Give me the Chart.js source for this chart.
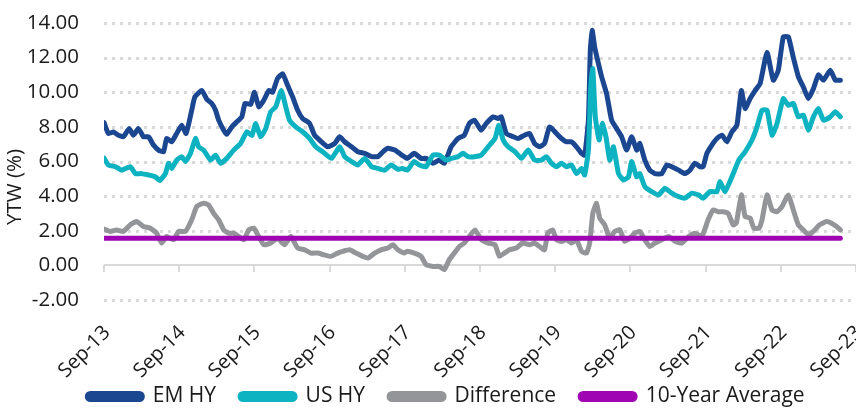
<!DOCTYPE html>
<html>
<head>
<meta charset="utf-8">
<script src="https://cdn.jsdelivr.net/npm/chart.js@4/dist/chart.umd.min.js"></script>
<style>
  html, body { margin: 0; padding: 0; background: #ffffff; }
  #wrap { width: 856px; height: 411px; position: relative; }
</style>
</head>
<body>
<div id="wrap"><canvas id="c"></canvas></div>
<script>
// x = months since Sep-2013
const tickLabels = ["Sep-13","Sep-14","Sep-15","Sep-16","Sep-17","Sep-18","Sep-19","Sep-20","Sep-21","Sep-22","Sep-23"];

const emMonths = [0,0.7,1.5,2.3,3.1,4,4.7,5.5,6.3,7.1,7.9,8.7,9.5,10,10.8,11.6,12.4,13.1,14,14.5,15.6,16.4,17.2,17.8,18.3,19.1,19.6,20.4,21.2,22,22.5,23.4,24,24.7,25.5,26.3,26.9,27.7,28.5,29.3,30.1,30.9,31.7,32.8,33.6,34.7,35.7,36.8,37.6,38.4,39.5,40.5,41.6,42.7,43.7,44.5,45.3,46.4,47.4,48.4,49.5,50.6,51.4,52.5,53.5,54.3,55.4,56.5,57.5,58.3,59.1,60.2,61,62.1,62.9,63.4,64.2,65.3,66.1,67.1,67.9,68.7,69.5,70.3,71.1,72.2,73,73.8,74.6,75.4,76.2,76.7,77.3,77.6,77.9,78.3,78.9,79.4,80.2,81,81.8,82.6,83.4,84.2,85,85.5,86.3,87.1,87.9,89,89.8,90.6,91.7,92.7,93.5,94.3,95.1,95.6,96.2,97,97.8,98.6,99.4,100.2,101,101.7,102.3,103.1,103.9,104.7,105.8,106.8,107.6,108.4,109.2,110,110.8,111.6,112.4,113.2,114,114.8,115.9,116.7,117.5];
const emValues = [8.25,7.62,7.7,7.52,7.43,7.9,7.52,7.9,7.43,7.43,6.95,6.66,6.56,7.33,7.14,7.62,8.1,7.62,8.96,9.73,10.1,9.6,9.35,8.96,8.39,7.81,7.58,8.0,8.29,8.58,9.35,9.3,10.0,9.16,9.54,10.1,10.0,10.8,11.07,10.4,9.73,8.96,8.48,8.2,7.52,7.14,6.85,7.04,7.43,7.14,6.85,6.56,6.47,6.28,6.28,6.56,6.76,6.66,6.4,6.18,6.47,6.18,6.18,5.9,6.08,5.9,6.85,7.33,7.52,8.2,8.39,7.81,8.2,8.58,8.48,8.58,7.62,7.43,7.33,7.52,7.62,7.04,6.85,7.04,8.0,7.62,7.33,7.14,7.14,6.85,6.47,6.37,8.39,12.4,13.57,12.6,11.65,10.9,9.92,8.39,7.9,7.43,6.66,7.43,6.66,7.04,6.08,5.5,5.3,5.3,5.8,5.7,5.5,5.3,5.5,5.9,5.7,5.7,6.47,6.95,7.33,7.52,7.14,7.72,8.1,10.1,9.06,9.63,10.1,10.5,12.3,10.7,11.27,13.2,13.2,12.0,10.9,10.3,9.63,10.2,11.0,10.7,11.27,10.7,10.7];

const usMonths = [0,0.7,1.8,2.8,4.2,5,6,7.1,8.2,8.9,9.8,10.3,10.8,11.6,12.4,13,13.8,14.6,15.1,15.9,17,17.8,18.6,19.6,20.7,21.8,22.8,23.6,24.2,25,25.8,26.6,27.4,28.3,29,29.6,30.6,31.7,32.8,33.8,34.9,36.3,37.6,38.4,39.5,40.5,41.6,42.7,43.7,44.8,45.8,46.9,47.6,48.4,49.5,50.3,51.4,52.5,53.5,54.6,55.4,56.5,57.3,58.1,59.1,60.2,61.3,62.4,63,63.7,64.5,65.6,66.6,67.7,68.7,69.8,70.6,71.4,72.2,73,73.8,74.6,75.4,76.2,76.7,77.3,77.7,78,78.4,79,79.5,80.1,80.7,81.3,82.1,82.9,83.7,84.2,85,85.5,86.3,87.4,88.5,89.5,90.6,91.7,92.7,93.8,94.9,95.6,96.7,97.8,98.3,99.1,100.2,101.3,102.3,103.4,104.2,105,105.8,106.6,107.4,108.4,109.2,110,110.8,111.6,112.4,113.2,114,114.8,115.9,116.7,117.5];
const usValues = [6.2,5.8,5.7,5.5,5.7,5.3,5.3,5.22,5.12,4.9,5.3,5.9,5.6,6.08,6.28,6.0,6.47,7.33,6.85,6.66,6.08,6.37,5.9,6.18,6.66,7.04,7.72,7.5,8.2,7.43,7.9,8.87,9.16,10.1,9.16,8.39,8.0,7.72,7.33,6.85,6.56,6.18,6.85,6.28,6.0,5.8,6.18,5.7,5.6,5.5,5.8,5.55,5.6,5.5,6.0,5.8,5.7,6.37,6.37,6.08,6.18,6.28,6.47,6.28,6.28,6.37,6.85,7.33,8.1,7.24,6.85,6.56,6.18,6.66,6.08,6.08,6.28,5.9,5.7,5.9,5.7,5.8,5.3,5.6,5.22,6.66,10.5,11.36,8.58,7.24,8.2,7.43,6.08,6.85,5.3,4.93,5.12,6.0,5.12,5.3,4.55,4.26,4.07,4.45,4.17,3.97,3.88,4.17,4.07,3.88,4.26,4.26,4.84,4.26,5.12,6.08,6.56,7.24,8.0,8.96,8.96,7.52,8.2,9.63,9.25,9.35,8.58,8.68,7.81,8.58,9.06,8.39,8.58,8.87,8.58];

const diffMonths = [0,1,2,3.1,4.2,5.2,6.3,7.4,8.4,9.2,10,11.1,11.9,13,14,14.8,15.9,16.7,17.5,18.3,19.1,19.9,20.7,21.5,22.3,23.1,23.9,24.4,25.5,26.6,27.7,28.8,29.8,30.9,32,33,34.1,35.1,36.2,37.3,38.1,39.2,40.2,41.3,42.1,43.2,44.2,45.3,46.1,46.9,47.9,48.4,49.5,50.6,51.4,52.5,53.5,54.3,55.1,55.9,56.7,57.5,58.3,59.2,60.2,61.3,62.4,63.1,63.9,64.7,65.8,66.8,67.9,68.7,69.5,70.3,70.8,71.6,72.2,73,73.8,74.6,75.4,76.2,77,77.5,78,78.6,79.1,79.9,80.7,81.5,82.3,83.1,83.9,84.7,85.5,86.3,87.1,87.9,89,90.1,91.2,92.2,93.3,94.3,95.4,96.4,97.2,98,98.8,99.6,100.4,100.9,101.7,102.3,103.1,103.7,104.5,105,105.8,106.6,107.4,108.2,109.2,110,110.8,111.6,112.4,113.2,114.2,115.3,116.1,116.9,117.5];
const diffValues = [2.1,1.96,2.05,1.96,2.34,2.53,2.25,2.15,1.86,1.29,1.67,1.48,1.96,1.96,2.63,3.4,3.59,3.49,3.0,2.63,2.05,1.86,1.86,1.67,1.48,2.05,2.15,1.86,1.19,1.29,1.57,1.19,1.67,1.0,0.9,0.71,0.71,0.61,0.52,0.71,0.81,0.9,0.71,0.52,0.42,0.71,0.9,1.0,1.19,0.9,0.71,0.81,0.71,0.52,0.04,-0.06,-0.06,-0.25,0.33,0.71,1.09,1.29,1.67,2.05,1.48,1.29,1.19,0.52,0.71,0.9,1.0,1.29,1.19,1.29,1.09,0.9,1.86,2.05,1.48,1.38,1.48,1.29,1.48,0.81,0.71,1.29,3.0,3.59,2.73,2.34,1.57,1.96,2.05,1.38,1.57,1.86,1.96,1.48,1.09,1.29,1.48,1.67,1.38,1.29,1.67,1.86,1.67,2.63,3.2,3.1,3.1,3.0,2.34,2.44,4.07,2.82,2.73,2.15,2.15,2.63,4.07,3.2,3.1,3.4,4.07,3.2,2.34,2.05,1.77,1.96,2.34,2.53,2.44,2.25,2.05];

const avgMonths = [0,117.5];
const avgValues = [1.57,1.57];

const yTitle = 'YTW (%)';

function pts(xs, ys) { return xs.map((x, i) => ({ x: x, y: ys[i] })); }

const FONT = "'Open Sans', sans-serif";
const AXIS_PX = 20.5;
const XTICK_PX = 20;
const LEG_PX = 21;
const TXT = '#1a1a1a';
const GRID = '#d9d9d9';

// dotted y grid, solid zero line with year tick marks, and the y-axis title
const axisDecor = {
  id: 'axisDecor',
  beforeDatasetsDraw(chart) {
    const { ctx, chartArea, scales } = chart;
    ctx.save();
    ctx.strokeStyle = GRID;
    ctx.lineWidth = 3;
    ctx.setLineDash([3, 5]);
    scales.y.ticks.forEach(t => {
      if (t.value === 0) return;
      const y = Math.round(scales.y.getPixelForValue(t.value)) + 0.5;
      ctx.beginPath();
      ctx.moveTo(chartArea.left, y);
      ctx.lineTo(chartArea.right, y);
      ctx.stroke();
    });
    ctx.setLineDash([]);
    const y0 = Math.round(scales.y.getPixelForValue(0));
    ctx.lineWidth = 2;
    ctx.beginPath();
    ctx.moveTo(chartArea.left, y0);
    ctx.lineTo(chartArea.right, y0);
    scales.x.ticks.forEach(t => {
      const x = Math.round(scales.x.getPixelForValue(t.value));
      ctx.moveTo(x, y0);
      ctx.lineTo(x, y0 + 7);
    });
    ctx.stroke();
    ctx.restore();
  },
  afterDraw(chart) {
    const { ctx } = chart;
    ctx.save();
    ctx.fillStyle = TXT;
    ctx.font = AXIS_PX + "px " + FONT;
    ctx.textAlign = 'center';
    ctx.textBaseline = 'middle';
    ctx.translate(15, 187);
    ctx.rotate(-Math.PI / 2);
    ctx.fillText(yTitle, 0, 0);
    ctx.restore();
  }
};

// compact legend block: shorter box, text nudged into place
const LEGEND_H = 16, LEGEND_DY = -33, LEGEND_DX = 5;
const legendTweak = {
  id: 'legendTweak',
  beforeUpdate(chart) {
    const lg = chart.legend;
    if (lg && !lg.__wrapped) {
      const orig = lg.fit;
      lg.fit = function () { orig.call(this); this.height = LEGEND_H; };
      lg.__wrapped = true;
    }
  },
  afterLayout(chart) {
    const lg = chart.legend;
    if (!lg) return;
    lg.top += LEGEND_DY;
    lg.left += LEGEND_DX; lg.right += LEGEND_DX;
  }
};

const common = { pointRadius: 0, pointHoverRadius: 0, fill: false, borderWidth: 5, tension: 0.15,
                 borderCapStyle: 'round', borderJoinStyle: 'round' };

new Chart(document.getElementById('c'), {
  type: 'line',
  data: {
    datasets: [
      Object.assign({ label: 'EM HY', data: pts(emMonths, emValues), borderColor: '#1b4690', backgroundColor: '#1b4690', order: 2 }, common),
      Object.assign({ label: 'US HY', data: pts(usMonths, usValues), borderColor: '#0db3c1', backgroundColor: '#0db3c1', order: 1 }, common),
      Object.assign({ label: 'Difference', data: pts(diffMonths, diffValues), borderColor: '#939598', backgroundColor: '#939598', order: 3 }, common),
      Object.assign({ label: '10-Year Average', data: pts(avgMonths, avgValues), borderColor: '#a005b4', backgroundColor: '#a005b4', order: 0 }, common, { tension: 0 })
    ]
  },
  options: {
    responsive: true,
    maintainAspectRatio: false,
    animation: false,
    layout: { padding: { top: 23, right: 0, left: 26, bottom: 0 } },
    plugins: {
      tooltip: { enabled: false },
      legend: {
        position: 'bottom',
        labels: {
          font: { family: FONT, size: LEG_PX },
          color: TXT,
          boxWidth: 55,
          boxHeight: 6,
          padding: 24,
          useBorderRadius: true,
          borderRadius: 3,
          sort: (a, b) => a.datasetIndex - b.datasetIndex
        }
      }
    },
    scales: {
      x: {
        type: 'linear',
        min: 0, max: 120,
        grid: { display: false, drawTicks: false },
        border: { display: false },
        afterFit: (s) => { s.height = 95; s.paddingLeft = 0; s.paddingRight = 0; },
        ticks: {
          stepSize: 12,
          autoSkip: false,
          minRotation: 45, maxRotation: 45,
          padding: 21,
          labelOffset: 3,
          font: { family: FONT, size: XTICK_PX },
          color: TXT,
          callback: (v) => tickLabels[Math.round(v / 12)]
        }
      },
      y: {
        min: -2, max: 14,
        grid: { display: false, drawTicks: false },
        border: { display: false },
        afterFit: (s) => { s.width = 78; s.paddingTop = 0; s.paddingBottom = 0; },
        ticks: {
          stepSize: 2,
          padding: 25,
          font: { family: FONT, size: AXIS_PX },
          color: TXT,
          callback: (v) => v.toFixed(2)
        }
      }
    }
  },
  plugins: [axisDecor, legendTweak]
});
</script>
</body>
</html>
